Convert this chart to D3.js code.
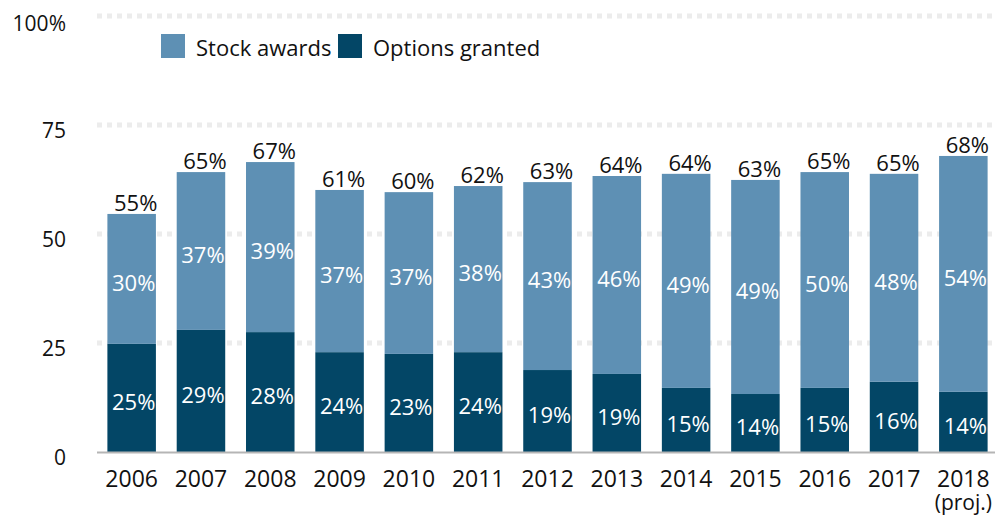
<!DOCTYPE html>
<html>
<head>
<meta charset="utf-8">
<script src="https://cdn.jsdelivr.net/npm/d3@7"></script>
<style>
  html, body { margin: 0; padding: 0; background: #fff; }
  svg { display: block; font-family: "Open Sans", Lato, sans-serif; }
</style>
</head>
<body>
<svg id="chart" width="995" height="517"></svg>
<script>
(function () {
  'use strict';

  // ── Data ──────────────────────────────────────────────────────────────────
  var years        = ['2006', '2007', '2008', '2009', '2010', '2011', '2012', '2013', '2014', '2015', '2016', '2017', '2018'];
  var yearSub      = ['', '', '', '', '', '', '', '', '', '', '', '', '(proj.)'];
  var options      = [24.8, 28.0, 27.5, 22.9, 22.5, 22.9, 18.8, 17.9, 14.7, 13.3, 14.7, 16.1, 13.8];
  var stock        = [29.8, 36.2, 39.0, 37.2, 37.1, 38.1, 43.1, 45.4, 49.1, 49.1, 49.5, 47.7, 54.1];
  var optionLabels = [25, 29, 28, 24, 23, 24, 19, 19, 15, 14, 15, 16, 14];
  var stockLabels  = [30, 37, 39, 37, 37, 38, 43, 46, 49, 49, 50, 48, 54];
  var totalLabels  = [55, 65, 67, 61, 60, 62, 63, 64, 64, 63, 65, 65, 68];
  var yTicks       = [0, 25, 50, 75, 100];
  var series       = ['Stock awards', 'Options granted'];

  var LIGHT = '#5e90b4';
  var DARK  = '#034666';

  var svg = d3.select('#chart');

  // ── Scales ────────────────────────────────────────────────────────────────
  var x = d3.scaleBand().domain(years).range([97, 998]).paddingInner(0.3).paddingOuter(0.15);
  var y = d3.scaleLinear().domain([0, 100]).range([452, 16]);

  var rows = years.map(function (yr, i) {
    return { year: yr, sub: yearSub[i], opt: options[i], stk: stock[i],
             optL: optionLabels[i], stkL: stockLabels[i], totL: totalLabels[i] };
  });

  // ── Gridlines ─────────────────────────────────────────────────────────────
  svg.append('g').selectAll('line').data(yTicks.filter(function (t) { return t > 0; })).join('line')
    .attr('x1', 97).attr('x2', 995)
    .attr('y1', function (d) { return y(d); }).attr('y2', function (d) { return y(d); })
    .attr('stroke', '#ececec').attr('stroke-width', 5).attr('stroke-dasharray', '5,5');

  // ── Y axis labels ─────────────────────────────────────────────────────────
  var yAxis = d3.axisLeft(y).tickValues(yTicks).tickSize(0)
    .tickFormat(function (d) { return d === 100 ? '100%' : d; });
  var yg = svg.append('g').attr('transform', 'translate(66,0)').call(yAxis);
  yg.select('.domain').remove();
  yg.selectAll('text')
    .attr('x', 0).attr('dy', null)
    .attr('y', function (d) { return d === 100 ? 14 : 12; })
    .attr('text-anchor', 'end')
    .attr('font-size', 21).attr('font-family', '"Open Sans", Lato, sans-serif').attr('fill', '#111');

  // ── Bars ──────────────────────────────────────────────────────────────────
  var bars = svg.append('g').selectAll('g').data(rows).join('g');
  bars.append('rect')
    .attr('x', function (d) { return x(d.year); }).attr('width', x.bandwidth())
    .attr('y', function (d) { return y(d.opt); })
    .attr('height', function (d) { return y(0) - y(d.opt); })
    .attr('fill', DARK);
  bars.append('rect')
    .attr('x', function (d) { return x(d.year); }).attr('width', x.bandwidth())
    .attr('y', function (d) { return y(d.opt + d.stk); })
    .attr('height', function (d) { return y(d.opt) - y(d.opt + d.stk); })
    .attr('fill', LIGHT);

  // baseline
  svg.append('line').attr('x1', 97).attr('x2', 995).attr('y1', y(0) + 0.5).attr('y2', y(0) + 0.5)
    .attr('stroke', '#b5b5b5').attr('stroke-width', 2);

  // ── Bar labels ────────────────────────────────────────────────────────────
  function cx(d) { return x(d.year) + x.bandwidth() / 2 + 2; }
  bars.append('text')
    .attr('x', cx).attr('y', function (d) { return (y(0) + y(d.opt)) / 2 + 12; })
    .attr('text-anchor', 'middle').attr('font-size', 22).attr('fill', '#fff')
    .text(function (d) { return d.optL + '%'; });
  bars.append('text')
    .attr('x', cx).attr('y', function (d) { return (y(d.opt) + y(d.opt + d.stk)) / 2 + 12; })
    .attr('text-anchor', 'middle').attr('font-size', 22).attr('fill', '#fff')
    .text(function (d) { return d.stkL + '%'; });
  bars.append('text')
    .attr('x', function (d) { return cx(d) + 2; }).attr('y', function (d) { return y(d.opt + d.stk) - 3; })
    .attr('text-anchor', 'middle').attr('font-size', 22).attr('fill', '#111')
    .text(function (d) { return d.totL + '%'; });

  // ── X axis labels ─────────────────────────────────────────────────────────
  var xAxis = d3.axisBottom(x).tickSize(0);
  var xg = svg.append('g').attr('transform', 'translate(0,' + y(0) + ')').call(xAxis);
  xg.select('.domain').remove();
  xg.selectAll('text').remove();
  xg.selectAll('.tick').each(function (d, i) {
    var g = d3.select(this);
    g.append('text').attr('y', 35)
      .attr('text-anchor', 'middle').attr('font-size', 23).attr('fill', '#111')
      .attr('font-family', '"Open Sans", Lato, sans-serif').text(d);
    if (yearSub[i]) {
      g.append('text').attr('y', 58)
        .attr('text-anchor', 'middle').attr('font-size', 21).attr('fill', '#111')
        .attr('font-family', '"Open Sans", Lato, sans-serif').text(yearSub[i]);
    }
  });

  // ── Legend ────────────────────────────────────────────────────────────────
  var legendX = [161, 338];
  var legendColors = [LIGHT, DARK];
  var lg = svg.append('g').selectAll('g').data(series).join('g')
    .attr('transform', function (d, i) { return 'translate(' + legendX[i] + ',34)'; });
  lg.append('rect').attr('width', 24).attr('height', 24)
    .attr('fill', function (d, i) { return legendColors[i]; });
  lg.append('text').attr('x', 35).attr('y', 22).attr('font-size', 22).attr('fill', '#111')
    .text(function (d) { return d; });
})();
</script>
</body>
</html>
